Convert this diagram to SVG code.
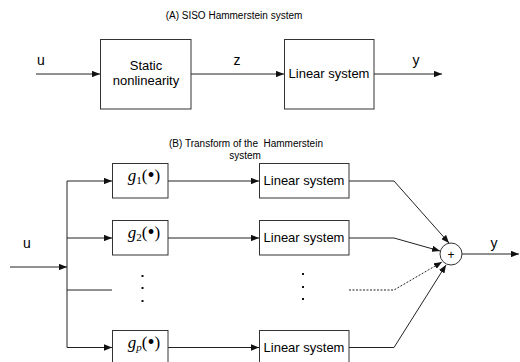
<svg xmlns="http://www.w3.org/2000/svg" width="520" height="362" viewBox="0 0 520 362">
<style>
.box{fill:#fff;stroke:#333;stroke-width:1}
.ln{fill:none;stroke:#222;stroke-width:1}
.ds{fill:none;stroke:#222;stroke-width:1;stroke-dasharray:2,1.5}
.t{font-family:"Liberation Sans",Arial,sans-serif;fill:#000}
.g{font-family:"Liberation Serif","Times New Roman",serif;fill:#000}
</style>
<defs>
<marker id="ar" viewBox="0 0 10 8" refX="10" refY="4" markerWidth="8" markerHeight="6.4" markerUnits="userSpaceOnUse" orient="auto">
<path d="M0,0 L10,4 L0,8 Z" fill="#111"/>
</marker>
</defs>
<rect width="520" height="362" fill="#fff"/>
<text class="t" x="234" y="19" font-size="10" text-anchor="middle">(A) SISO Hammerstein system</text>
<text class="t" x="246" y="147" font-size="10" text-anchor="middle" xml:space="preserve" style="white-space:pre">(B) Transform of the  Hammerstein</text>
<text class="t" x="245" y="159" font-size="10" text-anchor="middle">system</text>
<g id="connectors">
<line class="ln" x1="36" y1="74" x2="100" y2="74" marker-end="url(#ar)"/>
<line class="ln" x1="191" y1="74" x2="284" y2="74" marker-end="url(#ar)"/>
<line class="ln" x1="374" y1="74" x2="442" y2="74" marker-end="url(#ar)"/>
<line class="ln" x1="10" y1="267" x2="67" y2="267" marker-end="url(#ar)"/>
<line class="ln" x1="67" y1="181" x2="67" y2="347.5"/>
<line class="ln" x1="67" y1="181" x2="112" y2="181" marker-end="url(#ar)"/>
<line class="ln" x1="67" y1="238" x2="112" y2="238" marker-end="url(#ar)"/>
<line class="ln" x1="67" y1="290" x2="112" y2="290" stroke="#555"/>
<line class="ln" x1="67" y1="347.5" x2="112" y2="347.5" marker-end="url(#ar)"/>
<line class="ln" x1="168" y1="181" x2="259" y2="181" marker-end="url(#ar)"/>
<line class="ln" x1="168" y1="238" x2="259" y2="238" marker-end="url(#ar)"/>
<line class="ln" x1="168" y1="347.5" x2="259" y2="347.5" marker-end="url(#ar)"/>
<polyline class="ln" points="349,181 394,181 449,243" marker-end="url(#ar)"/>
<polyline class="ln" points="349,238 394,238 440,251" marker-end="url(#ar)"/>
<polyline class="ds" points="349,290 394,290 442,262" marker-end="url(#ar)"/>
<polyline class="ln" points="349,347.5 394,347.5 446,265" marker-end="url(#ar)"/>
<line class="ln" x1="462" y1="254" x2="519" y2="254" marker-end="url(#ar)"/>
</g>
<text class="t" x="41" y="65" font-size="14" text-anchor="middle">u</text>
<text class="t" x="237" y="65" font-size="14" text-anchor="middle">z</text>
<text class="t" x="416" y="65" font-size="14" text-anchor="middle">y</text>
<text class="t" x="27" y="248" font-size="14" text-anchor="middle">u</text>
<text class="t" x="494" y="248" font-size="14" text-anchor="middle">y</text>
<g id="static">
<rect class="box" x="100.5" y="39.5" width="90.5" height="69.5"/>
<text class="t" x="146" y="70" font-size="13" text-anchor="middle">Static</text>
<text class="t" x="146" y="85" font-size="13" text-anchor="middle">nonlinearity</text>
</g>
<g id="linA">
<rect class="box" x="284.5" y="39.5" width="89.5" height="69.5"/>
<text class="t" x="329" y="78" font-size="13" text-anchor="middle">Linear system</text>
</g>
<g id="g1">
<rect class="box" x="112.5" y="163.5" width="55.5" height="34.5"/>
<text class="g" x="144" y="181" font-size="17" text-anchor="middle"><tspan font-style="italic">g</tspan><tspan font-size="11" dy="3">1</tspan><tspan dy="-3">(</tspan><tspan font-size="20" dy="1">•</tspan><tspan dy="-1">)</tspan></text>
</g>
<g id="g2">
<rect class="box" x="112.5" y="220.5" width="55.5" height="34.5"/>
<text class="g" x="144" y="238" font-size="17" text-anchor="middle"><tspan font-style="italic">g</tspan><tspan font-size="11" dy="3">2</tspan><tspan dy="-3">(</tspan><tspan font-size="20" dy="1">•</tspan><tspan dy="-1">)</tspan></text>
</g>
<g id="gp">
<rect class="box" x="112.5" y="330.5" width="55.5" height="34.5"/>
<text class="g" x="144" y="348" font-size="17" text-anchor="middle"><tspan font-style="italic">g</tspan><tspan font-size="11" font-style="italic" dy="3">p</tspan><tspan dy="-3">(</tspan><tspan font-size="20" dy="1">•</tspan><tspan dy="-1">)</tspan></text>
</g>
<g id="lin1">
<rect class="box" x="259.5" y="163.5" width="89.5" height="34.5"/>
<text class="t" x="304" y="185" font-size="13" text-anchor="middle">Linear system</text>
</g>
<g id="lin2">
<rect class="box" x="259.5" y="220.5" width="89.5" height="34.5"/>
<text class="t" x="304" y="242" font-size="13" text-anchor="middle">Linear system</text>
</g>
<g id="lin3">
<rect class="box" x="259.5" y="330.5" width="89.5" height="34.5"/>
<text class="t" x="304" y="352" font-size="13" text-anchor="middle">Linear system</text>
</g>
<g id="sum">
<circle class="box" cx="451" cy="254" r="11"/>
<text class="t" x="451" y="258.5" font-size="12" text-anchor="middle">+</text>
</g>
<g id="dots">
<rect x="141.5" y="275" width="2" height="2" fill="#111"/>
<rect x="141.5" y="287" width="2" height="2" fill="#111"/>
<rect x="141.5" y="300" width="2" height="2" fill="#111"/>
<rect x="302" y="273" width="2" height="2" fill="#111"/>
<rect x="302" y="286" width="2" height="2" fill="#111"/>
<rect x="302" y="298" width="2" height="2" fill="#111"/>
</g>
</svg>
